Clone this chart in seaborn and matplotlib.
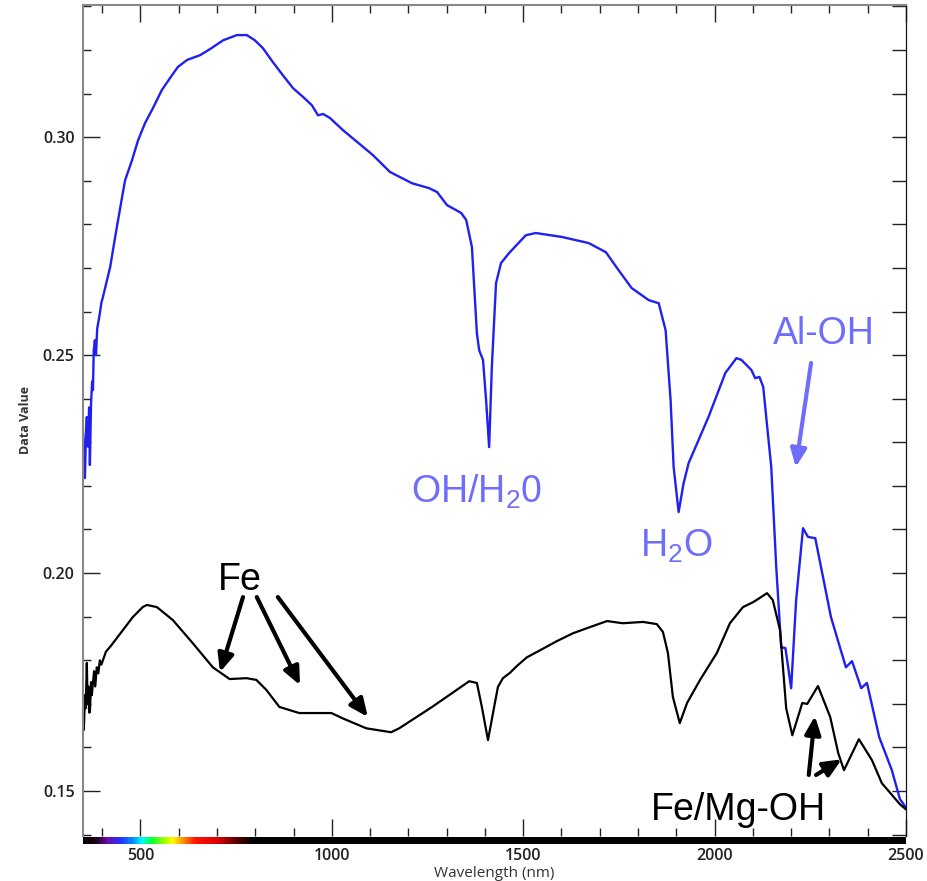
import numpy as np
import pandas as pd
import matplotlib
matplotlib.use("Agg")
import matplotlib.pyplot as plt
from matplotlib.colors import LinearSegmentedColormap
from matplotlib.ticker import MultipleLocator, FormatStrFormatter
import seaborn as sns

# upper (blue) spectrum
blue_nm = [350, 353, 355, 358, 360, 363, 366, 368, 371, 374, 376, 378, 381, 384, 387,
           390, 394, 398, 402, 421, 434, 452, 460, 478, 494, 512, 533, 556, 577, 598,
           622, 656, 682, 716, 752, 778, 799, 820, 846, 872, 899, 925, 948, 964, 977,
           995, 1029, 1066, 1107, 1152, 1210, 1254, 1275, 1301, 1338, 1351, 1366,
           1379, 1385, 1395, 1403, 1411, 1418, 1429, 1442, 1463, 1507, 1533, 1601,
           1671, 1716, 1749, 1783, 1828, 1854, 1872, 1885, 1893, 1906, 1919, 1932,
           1984, 2028, 2057, 2070, 2096, 2106, 2117, 2127, 2148, 2161, 2174, 2185,
           2200, 2213, 2231, 2244, 2263, 2304, 2343, 2359, 2383, 2398, 2430, 2463,
           2484, 2500]
blue_val = [0.2321, 0.2270, 0.2218, 0.2330, 0.2358, 0.2290, 0.2380, 0.2248, 0.2390,
            0.2440, 0.2420, 0.2510, 0.2534, 0.2500, 0.2560, 0.2575, 0.2596, 0.2620,
            0.2633, 0.2702, 0.2771, 0.2862, 0.2901, 0.2947, 0.2993, 0.3032, 0.3067,
            0.3108, 0.3135, 0.3161, 0.3177, 0.3188, 0.3202, 0.3222, 0.3234, 0.3234,
            0.3222, 0.3204, 0.3172, 0.3142, 0.3112, 0.3092, 0.3073, 0.3050, 0.3053,
            0.3044, 0.3016, 0.2989, 0.2959, 0.2920, 0.2894, 0.2883, 0.2874, 0.2844,
            0.2826, 0.2810, 0.2748, 0.2550, 0.2511, 0.2489, 0.2397, 0.2289, 0.2472,
            0.2665, 0.2711, 0.2734, 0.2775, 0.2780, 0.2771, 0.2757, 0.2736, 0.2695,
            0.2654, 0.2626, 0.2619, 0.2557, 0.2397, 0.2243, 0.2140, 0.2206, 0.2252,
            0.2358, 0.2459, 0.2493, 0.2489, 0.2466, 0.2447, 0.2450, 0.2427, 0.2243,
            0.2014, 0.1830, 0.1828, 0.1736, 0.1938, 0.2103, 0.2083, 0.2080, 0.1899,
            0.1784, 0.1798, 0.1736, 0.1748, 0.1624, 0.1548, 0.1482, 0.1462]

# lower (black) spectrum
black_nm = [350, 352, 353, 355, 357, 360, 362, 364, 366, 368, 371, 373, 376, 379, 382,
            386, 390, 394, 398, 402, 410, 420, 428, 454, 480, 506, 517, 543, 585, 637,
            689, 733, 777, 803, 829, 863, 915, 968, 999, 1028, 1090, 1155, 1176, 1262,
            1359, 1379, 1392, 1408, 1426, 1434, 1447, 1465, 1486, 1510, 1544, 1588,
            1630, 1674, 1719, 1760, 1813, 1849, 1865, 1878, 1891, 1909, 1928, 1962,
            2006, 2040, 2074, 2100, 2118, 2137, 2152, 2171, 2187, 2203, 2229, 2242,
            2270, 2302, 2323, 2338, 2377, 2411, 2437, 2484, 2500]
black_val = [0.1690, 0.1640, 0.1663, 0.1720, 0.1690, 0.1794, 0.1700, 0.1740, 0.1680,
             0.1681, 0.1750, 0.1720, 0.1748, 0.1775, 0.1740, 0.1784, 0.1770, 0.1800,
             0.1790, 0.1800, 0.1820, 0.1830, 0.1839, 0.1869, 0.1899, 0.1922, 0.1927,
             0.1922, 0.1892, 0.1839, 0.1784, 0.1757, 0.1759, 0.1755, 0.1732, 0.1693,
             0.1679, 0.1679, 0.1679, 0.1667, 0.1644, 0.1635, 0.1644, 0.1693, 0.1752,
             0.1748, 0.1693, 0.1617, 0.1702, 0.1739, 0.1759, 0.1771, 0.1789, 0.1807,
             0.1823, 0.1844, 0.1862, 0.1876, 0.1890, 0.1885, 0.1888, 0.1883, 0.1865,
             0.1817, 0.1716, 0.1656, 0.1702, 0.1755, 0.1817, 0.1885, 0.1922, 0.1933,
             0.1943, 0.1954, 0.1938, 0.1869, 0.1690, 0.1628, 0.1702, 0.1700, 0.1741,
             0.1670, 0.1587, 0.1548, 0.1619, 0.1571, 0.1518, 0.1470, 0.1458]

# visible-light strip under the x axis
strip_nm = [350, 380, 410, 445, 480, 500, 525, 560, 580, 610, 640, 700, 750, 790, 2500]
strip_col = ["#000000", "#1a001a", "#6a0dad", "#2233ff", "#0099ff", "#00ffff",
             "#00ff33", "#aaff00", "#ffff00", "#ff8800", "#ff1100", "#dd0000",
             "#550000", "#000000", "#000000"]

label_blue = "#6e6efa"
line_blue = "#2020f0"

sns.set_style("ticks")
plt.rcParams["font.family"] = ["Open Sans", "DejaVu Sans"]
plt.rcParams["mathtext.fontset"] = "custom"
plt.rcParams["mathtext.rm"] = "Liberation Sans"

fig = plt.figure(figsize=(9.27, 8.81), dpi=100)
W, H = 927, 881
ax = fig.add_axes([83 / W, 1 - 836 / H, 823 / W, 831 / H])
strip = fig.add_axes([83 / W, 1 - 844 / H, 823 / W, 7 / H])

df_blue = pd.DataFrame({"nm": blue_nm, "val": blue_val})
df_black = pd.DataFrame({"nm": black_nm, "val": black_val})
sns.lineplot(data=df_blue, x="nm", y="val", ax=ax, color=line_blue, lw=1.7, estimator=None)
sns.lineplot(data=df_black, x="nm", y="val", ax=ax, color="black", lw=1.6, estimator=None)

ax.set_xlim(350, 2500)
ax.set_ylim(0.1397, 0.3303)
ax.xaxis.set_major_locator(MultipleLocator(500))
ax.xaxis.set_minor_locator(MultipleLocator(100))
ax.yaxis.set_major_locator(MultipleLocator(0.05))
ax.yaxis.set_minor_locator(MultipleLocator(0.01))
ax.yaxis.set_major_formatter(FormatStrFormatter("%.2f"))
ax.tick_params(axis="x", which="both", direction="in", top=True, bottom=True,
               colors="#222222", labelcolor="#222222", labelsize=11.5, pad=9)
ax.tick_params(axis="x", which="major", length=12, width=1)
ax.tick_params(axis="x", which="minor", length=6, width=1)
ax.tick_params(axis="y", which="both", direction="in", left=True, right=False,
               colors="#222222", labelcolor="#222222", labelsize=11.5, pad=6)
ax.tick_params(axis="y", which="major", length=12, width=1)
ax.tick_params(axis="y", which="minor", length=6, width=1)
for lab in ax.get_xticklabels() + ax.get_yticklabels():
    lab.set_fontweight("semibold")

sec = ax.secondary_yaxis("right")
sec.yaxis.set_major_locator(MultipleLocator(0.01))
sec.tick_params(direction="in", length=10, width=1, labelright=False, colors="#222222")
sec.spines["right"].set_color("#111111")

for side in ["left", "top"]:
    ax.spines[side].set_color("#888888")
    ax.spines[side].set_linewidth(1.5)
ax.spines["right"].set_color("#111111")
ax.spines["bottom"].set_visible(False)

ax.set_xlabel("Wavelength (nm)", fontsize=11, color="#333333", labelpad=1)
ax.set_ylabel("Data Value", fontsize=9, fontweight="bold", color="#333333", labelpad=8)

# rainbow strip
pos = [(v - 350) / 2150 for v in strip_nm]
cmap = LinearSegmentedColormap.from_list("vis", list(zip(pos, strip_col)))
strip.imshow(np.linspace(0, 1, 2150)[None, :], cmap=cmap, aspect="auto",
             extent=[350, 2500, 0, 1])
strip.set_xlim(350, 2500)
strip.axis("off")

# annotations
afont = dict(family="Liberation Sans", fontsize=27, ha="center", va="baseline")
ax.text(760, 0.1961, "Fe", color="black", **afont)
ax.text(1377, 0.2161, r"OH/H$_\mathrm{2}$0", color=label_blue, **afont)
ax.text(1901, 0.2037, r"H$_\mathrm{2}$O", color=label_blue, **afont)
ax.text(2285, 0.2525, "Al-OH", color=label_blue, **afont)
ax.text(2063, 0.1433, "Fe/Mg-OH", color="black", **afont)

arrows = [((768, 0.1945), (708, 0.1773), "black"),
          ((804, 0.1945), (917, 0.1743), "black"),
          ((859, 0.1945), (1094, 0.1670), "black"),
          ((2252, 0.2482), (2212, 0.2243), label_blue),
          ((2246, 0.1537), (2262, 0.1672), "black"),
          ((2265, 0.1537), (2332, 0.1573), "black")]
for tail, tip, col in arrows:
    ax.annotate("", xy=tip, xytext=tail,
                arrowprops=dict(arrowstyle="-|>,head_length=0.9,head_width=0.4",
                                lw=3, color=col, shrinkA=0, shrinkB=0,
                                mutation_scale=12))

fig.savefig("out.png", dpi=100)
